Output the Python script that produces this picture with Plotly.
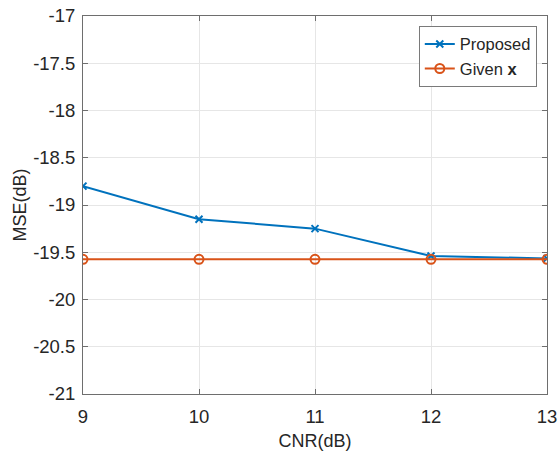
import plotly.graph_objects as go

cnr = [9, 10, 11, 12, 13]
proposed = [-18.80, -19.15, -19.25, -19.54, -19.565]
given_x = [-19.575, -19.575, -19.575, -19.575, -19.575]
yticks = [-17, -17.5, -18, -18.5, -19, -19.5, -20, -20.5, -21]

FONT = "Liberation Sans, Arial, Helvetica"

fig = go.Figure()
fig.add_trace(go.Scatter(x=cnr, y=proposed, mode="lines+markers", name="Proposed",
                         line=dict(color="#0072BD", width=2),
                         marker=dict(symbol="x-thin", size=7, line=dict(color="#0072BD", width=2))))
fig.add_trace(go.Scatter(x=cnr, y=given_x, mode="lines+markers", name="Given <b>x</b>",
                         line=dict(color="#D95319", width=2),
                         marker=dict(symbol="circle-open", size=9, line=dict(color="#D95319", width=2))))

axis_common = dict(showline=True, linecolor="#6e6e6e", linewidth=1, mirror="allticks",
                   ticks="inside", ticklen=5, tickcolor="#6e6e6e", automargin=False,
                   showgrid=True, gridcolor="#e6e6e6", gridwidth=1, zeroline=False,
                   tickfont=dict(family=FONT, size=18.5, color="#262626"))

fig.update_xaxes(range=[9, 13], tickvals=cnr, ticktext=[str(v) for v in cnr],
                 ticklabelstandoff=6,
                 title=dict(text="CNR(dB)", font=dict(family=FONT, size=18, color="#262626"), standoff=8),
                 **axis_common)
fig.update_yaxes(range=[-21, -17], tickvals=yticks, ticktext=[("%g" % v) for v in yticks],
                 ticklabelstandoff=3,
                 title=dict(text="MSE(dB)", font=dict(family=FONT, size=18, color="#262626"), standoff=1),
                 **axis_common)

fig.update_layout(width=558, height=454, margin=dict(l=83, r=11, t=16, b=60),
                  plot_bgcolor="white", paper_bgcolor="white",
                  font=dict(family=FONT, size=18, color="#262626"),
                  legend=dict(x=0.978, y=0.974, xanchor="right", yanchor="top",
                              bgcolor="white", bordercolor="#7a7a7a", borderwidth=1,
                              font=dict(size=16.5), tracegroupgap=0, itemwidth=30))

fig.write_html("out.html", config={"displayModeBar": False},
               post_script="document.body.style.margin='0';")
